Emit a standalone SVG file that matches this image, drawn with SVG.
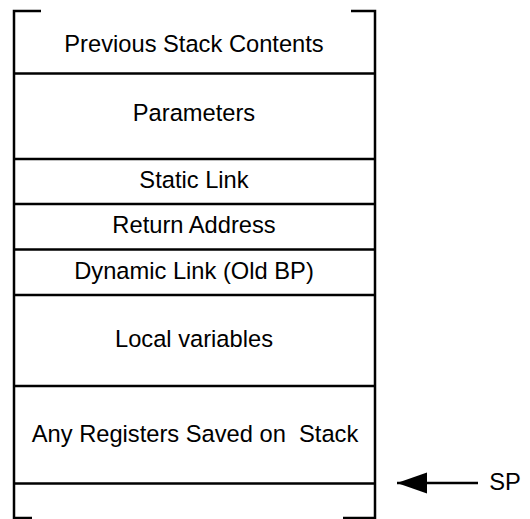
<svg xmlns="http://www.w3.org/2000/svg" width="530" height="519" viewBox="0 0 530 519">
<style>
.ln{stroke:#000;stroke-width:2.5;fill:none;stroke-linecap:butt}
.t{font-family:"Liberation Sans",Arial,sans-serif;font-size:23.7px;fill:#000;text-anchor:middle}
</style>
<defs>
<marker id="ah" markerUnits="userSpaceOnUse" markerWidth="32" markerHeight="24" refX="30" refY="11" orient="auto" viewBox="0 0 32 22">
<polygon points="0,0.5 30,11 0,21.5" fill="#000"/>
</marker>
</defs>
<rect width="530" height="519" fill="#fff"/>
<g id="frame">
<path class="ln" d="M14,11V518M375,11V518M12.75,11H41M351,11H376.25M12.75,518H32M343,518H376.25"/>
</g>
<g id="previous-stack-contents">
<text class="t" x="194" y="52">Previous Stack Contents</text>
<line class="ln" x1="14" y1="73.5" x2="375" y2="73.5"/>
</g>
<g id="parameters">
<text class="t" x="194" y="121">Parameters</text>
<line class="ln" x1="14" y1="159" x2="375" y2="159"/>
</g>
<g id="static-link">
<text class="t" x="194" y="188">Static Link</text>
<line class="ln" x1="14" y1="204" x2="375" y2="204"/>
</g>
<g id="return-address">
<text class="t" x="194" y="233">Return Address</text>
<line class="ln" x1="14" y1="249.5" x2="375" y2="249.5"/>
</g>
<g id="dynamic-link">
<text class="t" x="194" y="279">Dynamic Link (Old BP)</text>
<line class="ln" x1="14" y1="295" x2="375" y2="295"/>
</g>
<g id="local-variables">
<text class="t" x="194" y="347">Local variables</text>
<line class="ln" x1="14" y1="386" x2="375" y2="386"/>
</g>
<g id="saved-registers">
<text class="t" x="195" y="442" xml:space="preserve">Any Registers Saved on  Stack</text>
<line class="ln" x1="14" y1="483.5" x2="375" y2="483.5"/>
</g>
<g id="sp">
<text class="t" x="505" y="490">SP</text>
</g>
<g id="connectors">
<line class="ln" x1="478" y1="483" x2="397" y2="483" marker-end="url(#ah)"/>
</g>
</svg>
